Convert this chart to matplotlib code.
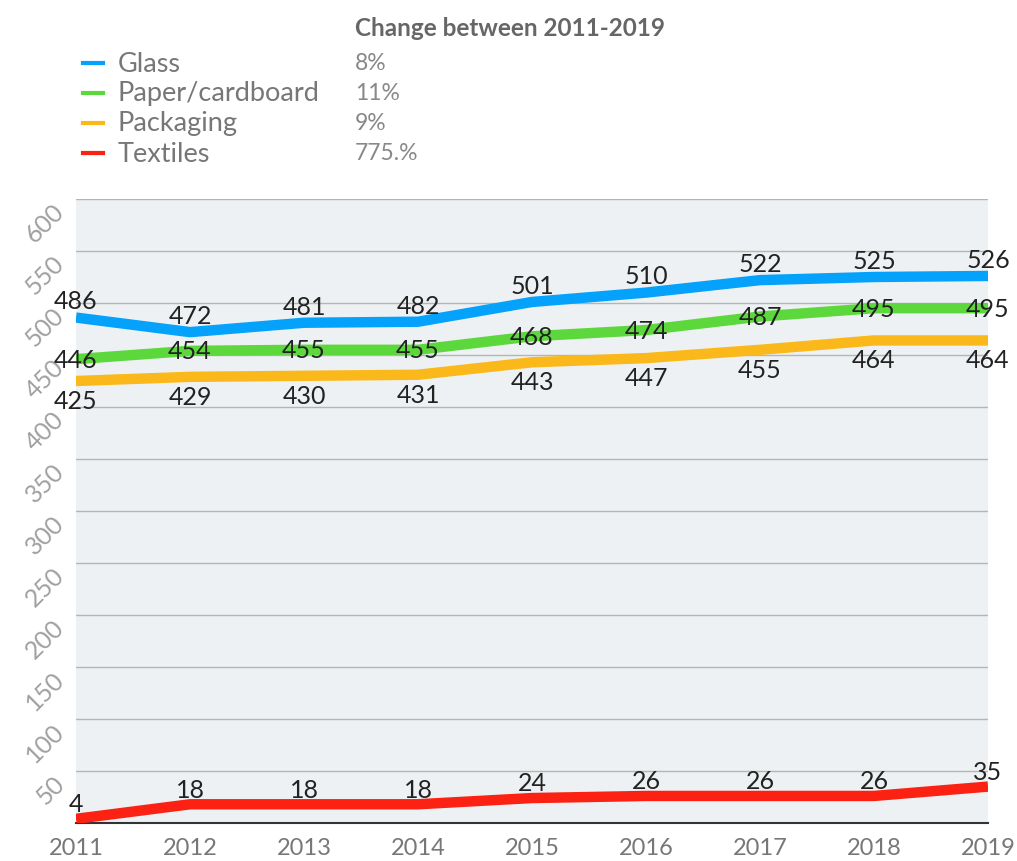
import matplotlib.pyplot as plt

years = [2011, 2012, 2013, 2014, 2015, 2016, 2017, 2018, 2019]
glass = [486, 472, 481, 482, 501, 510, 522, 525, 526]
paper = [446, 454, 455, 455, 468, 474, 487, 495, 495]
packaging = [425, 429, 430, 431, 443, 447, 455, 464, 464]
textiles = [4, 18, 18, 18, 24, 26, 26, 26, 35]

names = ["Glass", "Paper/cardboard", "Packaging", "Textiles"]
changes = ["8%", "11%", "9%", "775.%"]
colors = ["#05a2fb", "#5cd83c", "#fbb81a", "#fb2113"]
# label offset in points: above, on, below, above
offsets = [12, 0, -14, 11]

plt.rcParams["font.family"] = ["Lato", "DejaVu Sans"]

fig = plt.figure(figsize=(10.17, 8.62), dpi=100)
ax = fig.add_axes([76 / 1017, 1 - 824 / 862, 912 / 1017, 624 / 862])
ax.set_facecolor("#eef1f3")

series = [glass, paper, packaging, textiles]
for vals, col, off in zip(series, colors, offsets):
    ax.plot(years, vals, color=col, lw=7.5, solid_capstyle="butt", zorder=3)
    for x, v in zip(years, vals):
        ax.annotate(str(v), (x, v), xytext=(0, off), textcoords="offset points",
                    ha="center", va="center", fontsize=18, color="#222222", zorder=4)

ax.set_xlim(2011, 2019)
ax.set_ylim(0, 600)
ax.set_yticks(range(50, 601, 50))
ax.set_xticks(years)
ax.grid(axis="y", color="#b5b5b5", lw=1)
ax.set_axisbelow(True)
for s in ["top", "right", "left"]:
    ax.spines[s].set_visible(False)
ax.spines["bottom"].set_color("#333333")
ax.spines["bottom"].set_linewidth(1.5)
ax.tick_params(length=0)
ax.tick_params(axis="x", labelsize=17, labelcolor="#777777", pad=10)
ax.tick_params(axis="y", labelsize=18, labelcolor="#a0a0a0", pad=17)
for lbl in ax.get_yticklabels():
    lbl.set_rotation(45)
    lbl.set_rotation_mode("anchor")
    lbl.set_va("top")
    lbl.set_ha("right")

# legend block
fig.text(355 / 1017, 1 - 28 / 862, "Change between 2011-2019", fontsize=17.5,
         fontweight="bold", color="#666666", va="center")
for i, (name, ch, col) in enumerate(zip(names, changes, colors)):
    y = 1 - (64 + i * 30) / 862
    fig.add_artist(plt.Line2D([83 / 1017, 103 / 1017], [y, y], color=col, lw=3))
    fig.text(118 / 1017, y, name, fontsize=19.5, color="#777777", va="center")
    fig.text(355 / 1017, y, ch, fontsize=16.5, color="#888888", va="center")

fig.savefig("out.png", dpi=100)
